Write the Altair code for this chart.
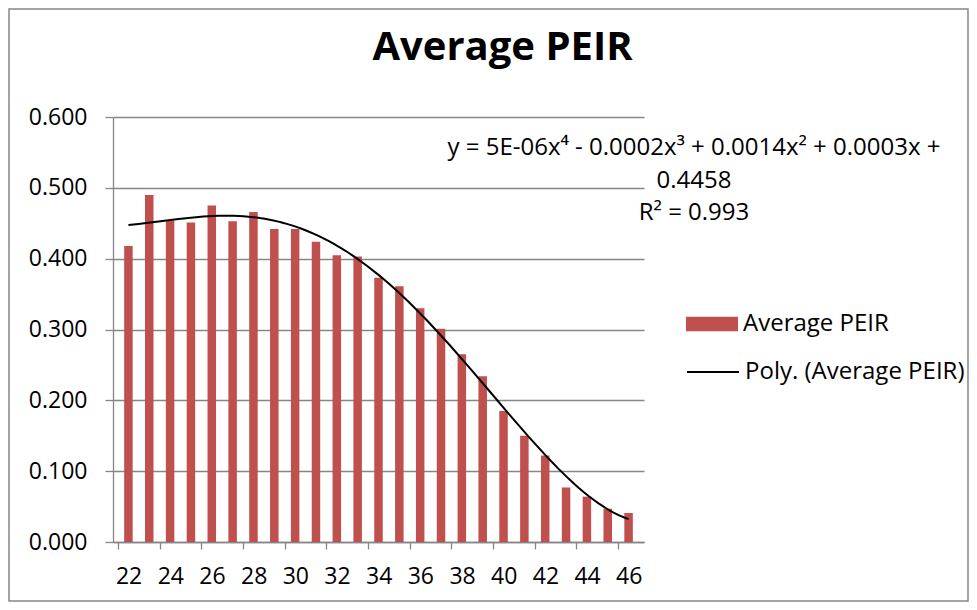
import altair as alt
import pandas as pd

ages = list(range(22, 47))
peir = [0.418, 0.490, 0.454, 0.451, 0.475, 0.453, 0.466, 0.442, 0.442, 0.424,
        0.405, 0.403, 0.373, 0.361, 0.330, 0.301, 0.265, 0.234, 0.185, 0.150,
        0.122, 0.077, 0.064, 0.047, 0.041]
series_names = ["Average PEIR", "Poly. (Average PEIR)"]
title_text = "Average PEIR"
equation_lines = ["y = 5E-06x⁴ - 0.0002x³ + 0.0014x² + 0.0003x +", "0.4458", "R² = 0.993"]
y_ticks = [0.0, 0.1, 0.2, 0.3, 0.4, 0.5, 0.6]

FONT = "Open Sans"
BAR = "#C0504D"
GRID = "#868686"
W, H = 531, 425

df = pd.DataFrame({"age": ages, "peir": peir, "series": series_names[0]})
bounds = [a - 0.5 for a in ages] + [ages[-1] + 0.5]

xscale = alt.Scale(domain=[bounds[0], bounds[-1]], nice=False, zero=False)
yscale = alt.Scale(domain=[0, 0.6], nice=False)

xaxis = alt.Axis(values=bounds, labelExpr="datum.value % 2 == 1.5 ? format(datum.value + 0.5, 'd') : ''",
                 labelOffset=W / len(ages) / 2, grid=False, tickSize=7, tickColor=GRID, tickWidth=1.3,
                 domainColor=GRID, domainWidth=1.3, labelFont=FONT, labelFontSize=23, labelColor="black",
                 labelPadding=16, labelBound=False, labelFlush=False, labelOverlap=False, title=None)
yaxis = alt.Axis(values=y_ticks, format=".3f", grid=True, gridColor=GRID, gridWidth=1.3,
                 tickSize=8, tickColor=GRID, tickWidth=1.3, domainColor=GRID, domainWidth=1.3,
                 labelFont=FONT, labelFontSize=23, labelColor="black", labelPadding=18, title=None)

bars = alt.Chart(df).mark_bar(width=8.5).encode(
    x=alt.X("age:Q", scale=xscale, axis=xaxis),
    y=alt.Y("peir:Q", scale=yscale, axis=yaxis),
    fill=alt.Fill("series:N", scale=alt.Scale(domain=[series_names[0]], range=[BAR]),
                  legend=alt.Legend(orient="none", legendX=573, legendY=181, title=None,
                                    symbolType="M-1,-0.28L1,-0.28L1,0.28L-1,0.28Z", symbolSize=2704,
                                    symbolStrokeWidth=0, labelFont=FONT, labelFontSize=24,
                                    labelColor="black", labelOffset=5, labelLimit=400, padding=0)),
)

trend = alt.Chart(df).transform_regression(
    "age", "peir", method="poly", order=4, extent=[ages[0], ages[-1]]
).transform_calculate(series=f"'{series_names[1]}'").mark_line(strokeWidth=2).encode(
    x=alt.X("age:Q", scale=xscale),
    y=alt.Y("peir:Q", scale=yscale),
    stroke=alt.Stroke("series:N", scale=alt.Scale(domain=[series_names[1]], range=["black"]),
                      legend=alt.Legend(orient="none", legendX=573, legendY=228, title=None,
                                        symbolType="stroke", symbolSize=2704, symbolStrokeWidth=2,
                                        labelFont=FONT, labelFontSize=24, labelColor="black",
                                        labelOffset=5, labelLimit=400, padding=0)),
)

eq = alt.Chart(df).transform_filter("datum.age == 22").mark_text(
    font=FONT, fontSize=24, align="center", baseline="middle", lineHeight=32.5, color="black"
).encode(x=alt.value(581), y=alt.value(31), text=alt.value(equation_lines))

frame = alt.Chart(df).transform_filter("datum.age == 22").mark_rect(
    fillOpacity=0, stroke=GRID, strokeWidth=1.5
).encode(x=alt.value(-104), x2=alt.value(855), y=alt.value(-108), y2=alt.value(484))

chart = alt.layer(frame, bars, trend, eq).resolve_scale(fill="independent", stroke="independent").properties(
    width=W, height=H,
    title=alt.TitleParams(title_text, font=FONT, fontSize=40, fontWeight="bold", anchor="middle",
                          frame="group", dx=124, offset=-60, color="black"),
    autosize=alt.AutoSizeParams(type="none"),
    padding={"left": 105, "top": 109, "right": 325, "bottom": 60},
).configure_view(stroke=None)

chart.save("out.html", embed_options={"renderer": "svg", "actions": False})
